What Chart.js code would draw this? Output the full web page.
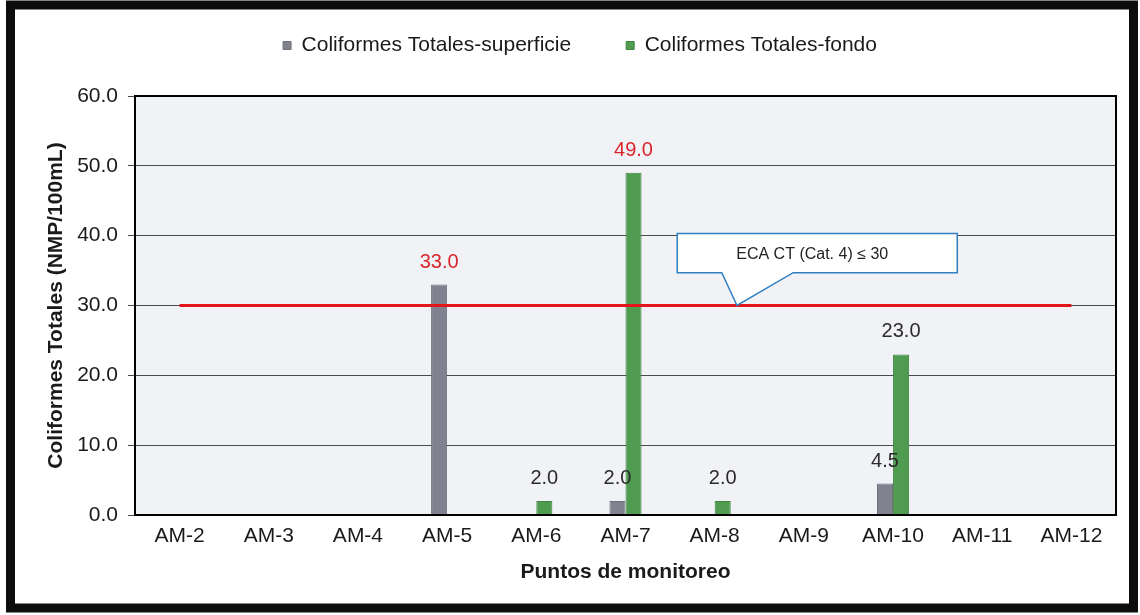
<!DOCTYPE html>
<html lang="es">
<head>
    <meta charset="UTF-8">
    <title>Coliformes Totales por punto de monitoreo</title>
    <script src="https://cdn.jsdelivr.net/npm/chart.js"></script>
    <style>
      body { margin: 0; background: #ffffff; }
      #wrap { width: 1140px; height: 615px; }
    </style>
</head>
<body>
    <div id="wrap"><canvas id="ctChart" width="1140" height="615"></canvas></div>

    <script>
      // datos
      const categories = ["AM-2", "AM-3", "AM-4", "AM-5", "AM-6", "AM-7", "AM-8", "AM-9", "AM-10", "AM-11", "AM-12"];
      const superficie = [null, null, null, 33.0, null, 2.0, null, null, 4.5, null, null];
      const fondo = [null, null, null, null, 2.0, 49.0, 2.0, null, 23.0, null, null];
      const ecaLimite = [30, 30, 30, 30, 30, 30, 30, 30, 30, 30, 30];
      const yMin = 0, yMax = 60, yStep = 10;
      const calloutText = "ECA CT (Cat. 4) \u2264 30";

      const FONT = "Arial, 'Liberation Sans', sans-serif";

      // marco negro, fondo del area de trazado y borde
      const framePlugin = {
        id: "frame",
        afterInit(chart) {
          // dejar espacio entre la leyenda y el area de trazado
          const lg = chart.legend;
          if (lg && !lg._extraFit) {
            const fit = lg.fit;
            lg.fit = function () { fit.call(this); this.height += 30; };
            lg._extraFit = true;
          }
        },
        beforeDraw(chart) {
          const { ctx, chartArea: a } = chart;
          ctx.save();
          ctx.fillStyle = "#f1f2f6";
          ctx.fillRect(a.left, a.top, a.right - a.left, a.bottom - a.top);
          ctx.restore();
        },
        afterDraw(chart) {
          const { ctx, chartArea: a } = chart;
          ctx.save();
          ctx.strokeStyle = "#000";
          ctx.lineWidth = 2;
          ctx.strokeRect(a.left, a.top, a.right - a.left, a.bottom - a.top);
          ctx.lineWidth = 9;
          ctx.strokeStyle = "#0d0d0d";
          ctx.strokeRect(10.5, 5, 1123, 603);
          ctx.restore();
        }
      };

      // etiquetas de valor sobre las barras
      const valueLabels = {
        id: "valueLabels",
        afterDatasetsDraw(chart) {
          const ctx = chart.ctx;
          ctx.save();
          ctx.font = "20px " + FONT;
          ctx.textAlign = "center";
          ctx.textBaseline = "alphabetic";
          chart.data.datasets.forEach((ds, i) => {
            if (ds.type === "line") return;
            chart.getDatasetMeta(i).data.forEach((bar, j) => {
              const v = ds.data[j];
              if (v === null) return;
              ctx.fillStyle = v > ecaLimite[j] ? "#d9262b" : "#2b2b2b";
              ctx.fillText(v.toFixed(1), bar.x, bar.y - 17);
            });
          });
          ctx.restore();
        }
      };

      // recuadro de llamada para el ECA
      const callout = {
        id: "callout",
        afterDatasetsDraw(chart) {
          const { ctx } = chart;
          const x = chart.scales.x, y = chart.scales.y;
          const l = x.getPixelForValue(5.58), r = x.getPixelForValue(8.72);
          const t = y.getPixelForValue(40.3), b = y.getPixelForValue(34.7);
          const p1 = x.getPixelForValue(6.08), p2 = x.getPixelForValue(6.88);
          const tipX = x.getPixelForValue(6.25), tipY = y.getPixelForValue(30);
          ctx.save();
          ctx.beginPath();
          ctx.moveTo(l, t);
          ctx.lineTo(r, t);
          ctx.lineTo(r, b);
          ctx.lineTo(p2, b);
          ctx.lineTo(tipX, tipY);
          ctx.lineTo(p1, b);
          ctx.lineTo(l, b);
          ctx.closePath();
          ctx.fillStyle = "#ffffff";
          ctx.fill();
          ctx.strokeStyle = "#2f7fc1";
          ctx.lineWidth = 1.5;
          ctx.stroke();
          ctx.fillStyle = "#222";
          ctx.font = "16px " + FONT;
          ctx.textAlign = "center";
          ctx.textBaseline = "middle";
          ctx.fillText(calloutText, (l + r) / 2 - 5, (t + b) / 2 + 1);
          ctx.restore();
        }
      };

      const ctx = document.getElementById("ctChart").getContext("2d");
      new Chart(ctx, {
        data: {
          labels: categories,
          datasets: [
            {
              type: "line",
              label: "ECA",
              data: ecaLimite,
              borderColor: "#e3161c",
              borderWidth: 3,
              pointRadius: 0,
              order: 0
            },
            {
              type: "bar",
              label: "Coliformes Totales-superficie",
              data: superficie,
              backgroundColor: "#80838f",
              borderColor: "#6d707b",
              borderWidth: 1,
              categoryPercentage: 0.36,
              barPercentage: 1.0,
              order: 1
            },
            {
              type: "bar",
              label: "Coliformes Totales-fondo",
              data: fondo,
              backgroundColor: "#4f9b4f",
              borderColor: "#3f843f",
              borderWidth: 1,
              categoryPercentage: 0.36,
              barPercentage: 1.0,
              order: 1
            }
          ]
        },
        options: {
          responsive: false,
          animation: false,
          layout: { padding: { top: -20, right: 24, bottom: 30, left: 44 } },
          plugins: {
            tooltip: { enabled: false },
            legend: {
              position: "top",
              labels: {
                filter: (item) => item.text !== "ECA",
                boxWidth: 8,
                boxHeight: 8,
                padding: 55,
                color: "#1a1a1a",
                font: { family: FONT, size: 21 }
              }
            }
          },
          scales: {
            x: {
              grid: { display: false, drawTicks: false },
              border: { display: false },
              ticks: { color: "#1a1a1a", padding: 9, font: { family: FONT, size: 21 } },
              title: {
                display: true,
                text: "Puntos de monitoreo",
                color: "#1a1a1a",
                padding: { top: 8, bottom: 0 },
                font: { family: FONT, size: 21, weight: "bold" }
              },
              afterFit: (scale) => { scale.height = 70; }
            },
            y: {
              min: yMin,
              max: yMax,
              ticks: {
                stepSize: yStep,
                color: "#1a1a1a",
                padding: 10,
                font: { family: FONT, size: 21 },
                callback: (v) => Number(v).toFixed(1)
              },
              grid: { color: "#4a4a4a", lineWidth: 1, tickLength: 7 },
              border: { display: true, color: "#000", width: 2 },
              title: {
                display: true,
                text: "Coliformes Totales (NMP/100mL)",
                color: "#1a1a1a",
                padding: { top: 0, bottom: 4 },
                font: { family: FONT, size: 21, weight: "bold" }
              },
              afterFit: (scale) => { scale.width = 91; }
            }
          }
        },
        plugins: [framePlugin, valueLabels, callout]
      });
    </script>
</body>
</html>
